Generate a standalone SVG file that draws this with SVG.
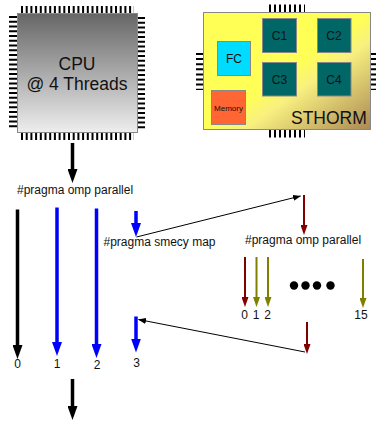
<svg xmlns="http://www.w3.org/2000/svg" width="376" height="421" viewBox="0 0 376 421">
<style>
text{font-family:"Liberation Sans",Arial,sans-serif;fill:#111}
.l{font-size:12px}
.m{text-anchor:middle}
.pin{stroke:#000;fill:none}
.chip{stroke:#888;stroke-width:1}
.core{fill:#006666;stroke:#888;stroke-width:1}
.a{fill:none}
</style>
<defs>
<linearGradient id="cpuG" x1="0" y1="0" x2="0" y2="1"><stop offset="0" stop-color="#666"/><stop offset="1" stop-color="#eee"/></linearGradient>
<linearGradient id="stG" x1="0" y1="0" x2="1" y2="1"><stop offset="0" stop-color="#ffff55"/><stop offset="0.5" stop-color="#ffff55"/><stop offset="0.62" stop-color="#f8f080"/><stop offset="1" stop-color="#aa8855"/></linearGradient>
<marker id="hb" markerUnits="userSpaceOnUse" markerWidth="14" markerHeight="10" refX="7" refY="5" viewBox="0 0 14 10" orient="auto"><path d="M0 0L14 5L0 10z" fill="#0000ff"/></marker>
<marker id="hk2" markerUnits="userSpaceOnUse" markerWidth="14" markerHeight="10" refX="7" refY="5" viewBox="0 0 14 10" orient="auto"><path d="M0 0L14 5L0 10z" fill="#000"/></marker>
<marker id="hr" markerUnits="userSpaceOnUse" markerWidth="10" markerHeight="7" refX="5" refY="3.5" viewBox="0 0 10 7" orient="auto"><path d="M0 0L10 3.5L0 7z" fill="#800000"/></marker>
<marker id="ho" markerUnits="userSpaceOnUse" markerWidth="10" markerHeight="7" refX="5" refY="3.5" viewBox="0 0 10 7" orient="auto"><path d="M0 0L10 3.5L0 7z" fill="#808000"/></marker>
<marker id="ht" markerUnits="userSpaceOnUse" markerWidth="8" markerHeight="6" refX="7.5" refY="3" viewBox="0 0 8 6" orient="auto"><path d="M0 0L8 3L0 6z" fill="#000"/></marker>
</defs>
<g id="cpu">
<g class="pin">
<line x1="21" y1="9.5" x2="134" y2="9.5" stroke-width="7" stroke-dasharray="2 2.7"/>
<line x1="21" y1="136.5" x2="134" y2="136.5" stroke-width="7" stroke-dasharray="2 2.7"/>
<line x1="13" y1="16" x2="13" y2="129.5" stroke-width="8" stroke-dasharray="2 2.75"/>
<line x1="141.5" y1="17" x2="141.5" y2="130.5" stroke-width="7" stroke-dasharray="2 2.75"/>
</g>
<rect class="chip" x="17.5" y="13.5" width="120" height="119" fill="url(#cpuG)"/>
<text class="m" x="77" y="70" font-size="17.5">CPU</text>
<text class="m" x="77" y="90" font-size="17.5">@ 4 Threads</text>
</g>
<g id="sthorm">
<g class="pin">
<line x1="269" y1="8.5" x2="305" y2="8.5" stroke-width="8" stroke-dasharray="2 3"/>
<line x1="269" y1="133.5" x2="305" y2="133.5" stroke-width="8" stroke-dasharray="2 3"/>
<line x1="199.5" y1="53" x2="199.5" y2="90" stroke-width="7" stroke-dasharray="2 3.1"/>
<line x1="374" y1="53" x2="374" y2="90" stroke-width="6" stroke-dasharray="2 3.1"/>
</g>
<rect class="chip" x="203.5" y="12.5" width="167" height="117" fill="url(#stG)"/>
<text x="291" y="124" font-size="17.5">STHORM</text>
</g>
<g id="fc"><rect class="chip" x="217.5" y="41.5" width="33" height="34" fill="#00dcff"/><text class="m" x="234" y="63" font-size="12">FC</text></g>
<g id="memory"><rect class="chip" x="211.5" y="90.5" width="34" height="34" fill="#ff6633"/><text class="m" x="228.500" y="111" font-size="8">Memory</text></g>
<g id="c1"><rect class="core" x="262.5" y="18.5" width="34" height="34"/><text class="m" x="279.5" y="40" font-size="12">C1</text></g>
<g id="c2"><rect class="core" x="317.5" y="18.5" width="33.500" height="34"/><text class="m" x="334" y="40" font-size="12">C2</text></g>
<g id="c3"><rect class="core" x="262.500" y="62.500" width="34" height="33.500"/><text class="m" x="279.500" y="84" font-size="12">C3</text></g>
<g id="c4"><rect class="core" x="317.500" y="62.500" width="33.500" height="33.500"/><text class="m" x="334" y="84" font-size="12">C4</text></g>
<g id="connectors" class="a">
<line x1="72.500" y1="143" x2="72.500" y2="176" stroke="#000" stroke-width="3.500" marker-end="url(#hk2)"/>
<line x1="17.500" y1="209.500" x2="17.500" y2="352" stroke="#000" stroke-width="3.500" marker-end="url(#hk2)"/>
<line x1="57" y1="207.500" x2="57" y2="349" stroke="#0000ff" stroke-width="3.500" marker-end="url(#hb)"/>
<line x1="96.500" y1="208.500" x2="96.500" y2="351" stroke="#0000ff" stroke-width="3.500" marker-end="url(#hb)"/>
<line x1="136" y1="211" x2="136" y2="230" stroke="#0000ff" stroke-width="3.500" marker-end="url(#hb)"/>
<line x1="136" y1="316.500" x2="136" y2="345.500" stroke="#0000ff" stroke-width="3.500" marker-end="url(#hb)"/>
<line x1="72.500" y1="379" x2="72.500" y2="413" stroke="#000" stroke-width="3.500" marker-end="url(#hk2)"/>
<line x1="304" y1="195" x2="304" y2="230" stroke="#800000" stroke-width="2" marker-end="url(#hr)"/>
<line x1="245" y1="257" x2="245" y2="302" stroke="#800000" stroke-width="2" marker-end="url(#hr)"/>
<line x1="256.500" y1="257" x2="256.500" y2="302" stroke="#808000" stroke-width="2" marker-end="url(#ho)"/>
<line x1="268" y1="257" x2="268" y2="302" stroke="#808000" stroke-width="2" marker-end="url(#ho)"/>
<line x1="363" y1="259" x2="363" y2="303" stroke="#808000" stroke-width="2" marker-end="url(#ho)"/>
<line x1="307" y1="322" x2="307" y2="349" stroke="#800000" stroke-width="2" marker-end="url(#hr)"/>
<line x1="136.500" y1="237" x2="300.500" y2="196" stroke="#000" stroke-width="1" marker-end="url(#ht)"/>
<line x1="305" y1="352" x2="138.500" y2="319.500" stroke="#000" stroke-width="1" marker-end="url(#ht)"/>
</g>
<g id="dots" fill="#000">
<circle cx="294" cy="285.500" r="4.200"/><circle cx="305.500" cy="285.500" r="4.200"/><circle cx="317" cy="285.500" r="4.200"/><circle cx="330.500" cy="285.500" r="4.200"/>
</g>
<g id="labels">
<text class="l" x="17" y="193.500">#pragma omp parallel</text>
<text class="l" x="103.500" y="246">#pragma smecy map</text>
<text class="l" x="245" y="244">#pragma omp parallel</text>
<text class="l m" x="17.500" y="368">0</text>
<text class="l m" x="57" y="368">1</text>
<text class="l m" x="97" y="369">2</text>
<text class="l m" x="136.500" y="367">3</text>
<text class="l m" x="244.500" y="319">0</text>
<text class="l m" x="256" y="319">1</text>
<text class="l m" x="267.500" y="319">2</text>
<text class="l m" x="361" y="319">15</text>
</g>
</svg>
